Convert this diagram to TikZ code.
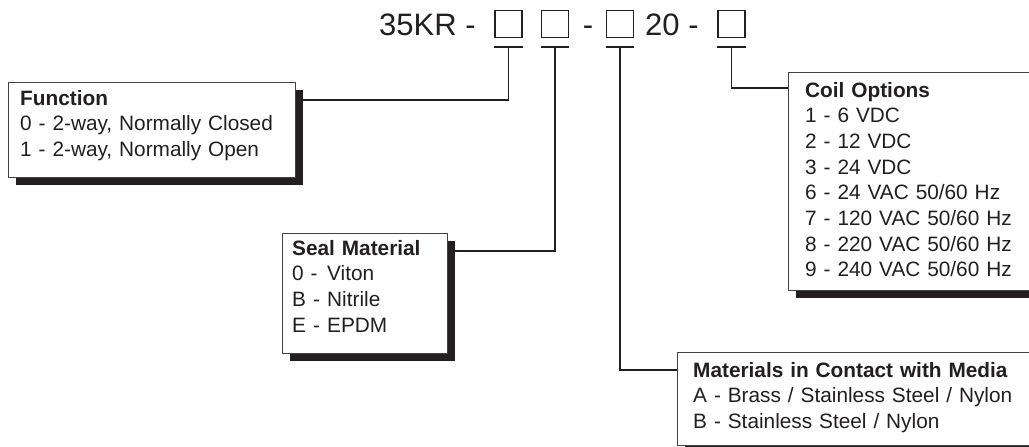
\documentclass[tikz,border=0pt]{standalone}
\usepackage{fontspec}
\setmainfont{Liberation Sans}
\usepackage{tikz}
\usetikzlibrary{positioning, shadows}
\definecolor{InkGray}{HTML}{231F20}

\begin{document}
\begin{tikzpicture}[x=1pt, y=1pt,
  title_text/.style={font=\fontsize{31}{36}\selectfont, text=InkGray, inner sep=0pt, anchor=base west},
  code_box/.style={draw=InkGray, line width=1.6pt, minimum size=27pt, inner sep=0pt},
  code_bar/.style={InkGray, line width=1.6pt},
  lead_line/.style={InkGray, line width=1.6pt},
  panel_box/.style={draw=InkGray!85, line width=0.8pt, fill=white, anchor=north west, inner sep=0pt,
    drop shadow={shadow xshift=8pt, shadow yshift=-8pt, fill=InkGray, opacity=1}},
  panel_text/.style={font=\fontsize{20.8}{25.7}\selectfont, text=InkGray, inner sep=0pt,
    anchor=base west, align=left}
]
  \useasboundingbox[fill=white] (0,0) rectangle (1029,-447);
  \clip (0,0) rectangle (1029,-447);

  % part number
  \node[title_text] (prefix) at (379,-35) {35KR -};
  \node[code_box] (box1) at (508.5,-24) {};
  \node[code_box] (box2) at (555,-24) {};
  \node[title_text, anchor=base] (dash) at (588,-35) {-};
  \node[code_box] (box3) at (620,-24) {};
  \node[title_text] (volt) at (645,-35) {20 -};
  \node[code_box] (box4) at (731.5,-24) {};

  \foreach \b in {box1,box2,box3,box4}
    \draw[code_bar] ([yshift=-8.5pt]\b.south west) -- coordinate (\b-bar) ([yshift=-8.5pt]\b.south east);

  % option panels
  \node[panel_box, minimum width=287pt, minimum height=95pt] (funcbox) at (8,-82) {};
  \node[panel_text, text width=270pt] (functext) at (20,-105)
    {\textbf{Function}\\0 - 2-way, Normally Closed\\1 - 2-way, Normally Open};

  \node[panel_box, minimum width=165pt, minimum height=120pt] (sealbox) at (282,-233) {};
  \node[panel_text, text width=150pt] (sealtext) at (292,-255)
    {\textbf{Seal Material}\\\makebox[35pt][l]{0 -}Viton\\\makebox[35pt][l]{B -}Nitrile\\\makebox[35pt][l]{E -}EPDM};

  \node[panel_box, minimum width=370pt, minimum height=93pt] (matbox) at (677,-352) {};
  \node[panel_text, text width=340pt] (mattext) at (693,-377)
    {\textbf{Materials in Contact with Media}\\A - Brass / Stainless Steel / Nylon\\B - Stainless Steel / Nylon};

  \node[panel_box, minimum width=260pt, minimum height=218pt] (coilbox) at (788,-72) {};
  \node[panel_text, text width=230pt] (coiltext) at (805,-97)
    {\textbf{Coil Options}\\1 - 6 VDC\\2 - 12 VDC\\3 - 24 VDC\\6 - 24 VAC 50/60 Hz\\7 - 120 VAC 50/60 Hz\\8 - 220 VAC 50/60 Hz\\9 - 240 VAC 50/60 Hz};

  % leaders
  \draw[lead_line] (box1-bar) |- ([yshift=-18pt]funcbox.north east);
  \draw[lead_line] (box2-bar) |- ([yshift=-18pt]sealbox.north east);
  \draw[lead_line] (box3-bar) |- ([yshift=-18pt]matbox.north west);
  \draw[lead_line] (box4-bar) |- ([yshift=-16pt]coilbox.north west);

\end{tikzpicture}
\end{document}
